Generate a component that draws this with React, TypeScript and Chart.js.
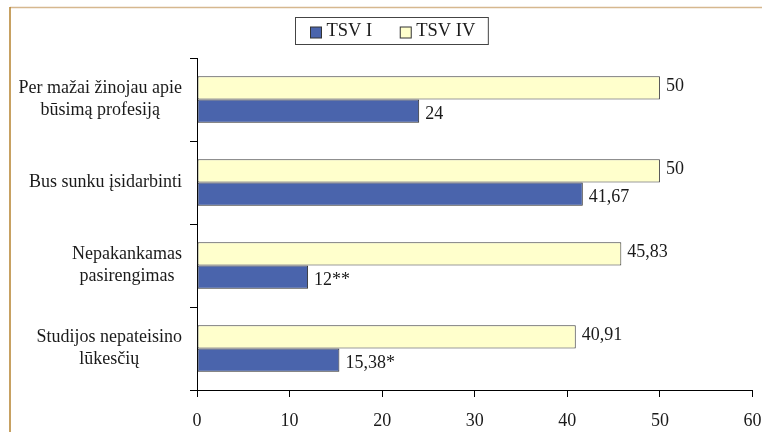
import React, { useEffect, useRef } from "react";
import { Chart, registerables } from "chart.js";

Chart.register(...registerables);

const categories: string[][] = [
  ["Per mažai žinojau apie", "būsimą profesiją"],
  ["Bus sunku įsidarbinti"],
  ["Nepakankamas", "pasirengimas"],
  ["Studijos nepateisino", "lūkesčių"],
];
const seriesNames = ["TSV I", "TSV IV"];
const tsvI = [24, 41.67, 12, 15.38];
const tsvIV = [50, 50, 45.83, 40.91];
const tsvILabels = ["24", "41,67", "12**", "15,38*"];
const tsvIVLabels = ["50", "50", "45,83", "40,91"];
const xMin = 0;
const xMax = 60;
const xStep = 10;

const FONT = "'Liberation Serif', 'Times New Roman', serif";
const TEXT = "#1a1a1a";

const framePlugin = {
  id: "frame",
  beforeDraw(chart: any) {
    const ctx = chart.ctx;
    ctx.save();
    ctx.lineWidth = 1.5;
    ctx.strokeStyle = "#D6B88F";
    ctx.beginPath();
    ctx.moveTo(10, 7.5);
    ctx.lineTo(chart.width, 7.5);
    ctx.stroke();
    ctx.strokeStyle = "#B5822E";
    ctx.beginPath();
    ctx.moveTo(10, 7);
    ctx.lineTo(10, chart.height);
    ctx.stroke();
    ctx.restore();
  },
};

const categoryLabelPlugin = {
  id: "categoryLabels",
  afterDraw(chart: any) {
    const ctx = chart.ctx;
    const yScale = chart.scales.y;
    const rightEdge = yScale.right - 15;
    const lineH = 22;
    ctx.save();
    ctx.font = `18px ${FONT}`;
    ctx.fillStyle = TEXT;
    ctx.textAlign = "center";
    ctx.textBaseline = "middle";
    categories.forEach((lines, i) => {
      const yc = yScale.getPixelForValue(i);
      const w = Math.max(...lines.map((l) => ctx.measureText(l).width));
      const cx = rightEdge - w / 2;
      const y0 = yc - ((lines.length - 1) * lineH) / 2;
      lines.forEach((l, j) => ctx.fillText(l, cx, y0 + j * lineH));
    });
    ctx.restore();
  },
};

const valueLabelPlugin = {
  id: "valueLabels",
  afterDatasetsDraw(chart: any) {
    const ctx = chart.ctx;
    ctx.save();
    ctx.font = `18px ${FONT}`;
    ctx.fillStyle = TEXT;
    ctx.textAlign = "left";
    ctx.textBaseline = "middle";
    chart.data.datasets.forEach((ds: any, di: number) => {
      const meta = chart.getDatasetMeta(di);
      meta.data.forEach((el: any, i: number) => {
        ctx.fillText(ds.valueLabels[i], el.x + 6, el.y + ds.labelShift);
      });
    });
    ctx.restore();
  },
};

const legendPlugin = {
  id: "boxLegend",
  afterDraw(chart: any) {
    const ctx = chart.ctx;
    ctx.save();
    ctx.font = `18.5px ${FONT}`;
    const items = [...chart.data.datasets].reverse();
    const sq = 11;
    const gap = 5;
    const itemGap = 28;
    const padL = 15;
    const padR = 13;
    const widths = items.map((d: any) => ctx.measureText(d.label).width);
    const total =
      padL + widths.reduce((a: number, w: number) => a + sq + gap + w, 0) + itemGap * (items.length - 1) + padR;
    const cx = 391;
    const top = 17;
    const h = 27;
    const left = Math.round(cx - total / 2) + 0.5;
    ctx.strokeStyle = "#444";
    ctx.lineWidth = 1;
    ctx.fillStyle = "#fff";
    ctx.fillRect(left, top + 0.5, total, h);
    ctx.strokeRect(left, top + 0.5, total, h);
    let x = left + padL;
    const yc = top + h / 2 + 1;
    items.forEach((d: any, i: number) => {
      ctx.fillStyle = d.backgroundColor;
      ctx.fillRect(x, yc - sq / 2 + 1, sq, sq);
      ctx.strokeStyle = "#333";
      ctx.strokeRect(x, yc - sq / 2 + 1, sq, sq);
      x += sq + gap;
      ctx.fillStyle = TEXT;
      ctx.textAlign = "left";
      ctx.textBaseline = "middle";
      ctx.fillText(d.label, x, yc);
      x += widths[i] + itemGap;
    });
    ctx.restore();
  },
};

export default function App() {
  const ref = useRef<HTMLCanvasElement>(null);
  useEffect(() => {
    if (!ref.current) return;
    const chart = new Chart(ref.current, {
      type: "bar",
      data: {
        labels: categories.map((c) => c.join(" ")),
        datasets: [
          {
            label: seriesNames[1],
            data: tsvIV,
            backgroundColor: "#FFFFCC",
            borderColor: "#3a3a3a",
            borderWidth: 1,
            borderSkipped: false,
            valueLabels: tsvIVLabels,
            labelShift: -2,
          } as any,
          {
            label: seriesNames[0],
            data: tsvI,
            backgroundColor: "#4A64AC",
            borderColor: "#2a2a2a",
            borderWidth: 1,
            borderSkipped: false,
            valueLabels: tsvILabels,
            labelShift: 3,
          } as any,
        ],
      },
      options: {
        indexAxis: "y",
        responsive: false,
        animation: false,
        barPercentage: 1,
        categoryPercentage: 0.56,
        layout: { padding: { left: 0, top: 58, right: 9.5, bottom: 0 } },
        plugins: {
          legend: { display: false },
          tooltip: { enabled: false },
          title: { display: false },
        },
        scales: {
          x: {
            min: xMin,
            max: xMax,
            ticks: {
              stepSize: xStep,
              color: TEXT,
              font: { family: FONT, size: 18 },
              padding: 13,
              maxRotation: 0,
            },
            grid: {
              drawOnChartArea: false,
              drawTicks: true,
              tickLength: 7,
              color: "#000",
            },
            border: { display: true, color: "#000" },
            afterFit: (s: any) => {
              s.height = 42;
              s.paddingLeft = 0;
              s.paddingRight = 0;
            },
          },
          y: {
            ticks: { display: false },
            grid: {
              drawOnChartArea: false,
              drawTicks: true,
              tickLength: 7,
              offset: true,
              color: "#000",
            },
            border: { display: true, color: "#000" },
            afterFit: (s: any) => {
              s.width = 197;
              s.paddingTop = 0;
              s.paddingBottom = 0;
            },
          },
        },
      } as any,
      plugins: [framePlugin, categoryLabelPlugin, valueLabelPlugin, legendPlugin],
    });
    return () => chart.destroy();
  }, []);
  return (
    <div style={{ position: "fixed", left: 0, top: 0, width: 762, height: 432, background: "#fff" }}>
      <canvas ref={ref} width={762} height={432} style={{ display: "block" }} />
    </div>
  );
}
